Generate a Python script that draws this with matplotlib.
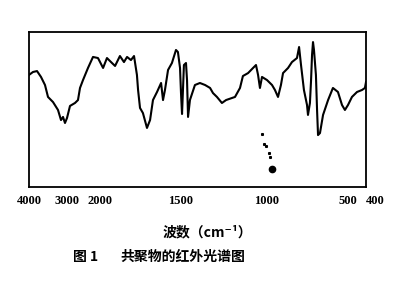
import numpy as np
import matplotlib
matplotlib.use("Agg")
import matplotlib.pyplot as plt

# IR spectrum: wavenumber (cm-1) and transmittance (%)
wavenumber = [4000, 3895, 3789, 3684, 3579, 3500, 3368, 3237, 3158, 3105, 3053, 3000,
              2909, 2758, 2667, 2606, 2515, 2364, 2212, 2061,
              1981, 1957, 1926, 1907, 1877, 1852, 1833, 1809, 1790, 1772, 1765, 1753,
              1735, 1710, 1691, 1673, 1648, 1623, 1611, 1599, 1580, 1556, 1531, 1519,
              1506, 1500, 1494, 1483, 1471, 1465, 1459, 1448, 1419, 1390, 1360, 1331,
              1314, 1291, 1262, 1238, 1186, 1157, 1140, 1110, 1081, 1064, 1052, 1041,
              1029, 1000, 969, 951, 932, 914, 901, 870, 846, 815, 802, 790, 772, 753,
              747, 735, 728, 722, 716, 710, 698, 691, 685, 673, 654, 623, 593, 562,
              537, 519, 500, 478, 450, 422, 406, 400]
transmittance = [72.3, 74.2, 74.8, 71.0, 65.8, 58.1, 54.8, 49.7, 43.2, 45.2, 41.3, 44.5,
                 52.3, 54.2, 56.1, 63.9, 69.0, 76.8, 83.9, 83.2,
                 76.8, 83.2, 80.0, 78.1, 84.5, 80.6, 83.9, 81.9, 84.5, 72.3, 62.6, 51.0,
                 47.7, 38.1, 43.2, 56.1, 61.3, 67.1, 56.1, 62.6, 75.5, 80.0, 88.4, 87.1,
                 76.8, 60.6, 47.1, 78.7, 80.0, 69.0, 45.2, 56.1, 65.8, 67.1, 65.8, 63.9,
                 60.6, 58.1, 54.2, 56.1, 58.1, 63.9, 71.6, 73.5, 76.8, 78.7, 72.3, 63.9,
                 71.0, 69.0, 65.8, 62.6, 58.1, 65.8, 73.5, 76.8, 80.6, 83.2, 90.3, 78.7,
                 62.6, 52.9, 46.5, 54.2, 69.0, 85.2, 93.5, 88.4, 72.3, 49.7, 33.5, 34.8,
                 46.5, 56.1, 63.9, 61.3, 52.9, 49.7, 52.9, 58.1, 61.3, 62.6, 63.9, 67.7]

# stray specks on the scan
speck_wn = [1029, 1017, 1006, 988, 981]
speck_t = [34.2, 27.7, 26.5, 22.0, 19.4]
blob_wn = [969]
blob_t = [11.6]

tick_values = [4000, 3000, 2000, 1500, 1000, 500, 400]
tick_labels = ["4000", "3000", "2000", "1500", "1000", "500", "400"]

# chart paper scale: compressed above 2000 cm-1
scale_wn = np.array([400, 500, 1000, 1500, 2000, 3000, 4000], dtype=float)
scale_pos = np.array([337, 319, 238, 152, 71, 38, 0], dtype=float)


def forward(x):
    return -np.interp(x, scale_wn, scale_pos)


def inverse(p):
    return np.interp(-np.asarray(p), scale_pos[::-1], scale_wn[::-1])


cjk = ["Noto Sans CJK SC", "DejaVu Sans"]

fig = plt.figure(figsize=(4, 2.88), dpi=100)
ax = fig.add_axes([29 / 400, 1 - 187 / 288, 337 / 400, 155 / 288])
ax.set_xscale("function", functions=(forward, inverse))

ax.plot(wavenumber, transmittance, color="black", linewidth=1.5)
ax.plot(speck_wn, speck_t, "s", color="black", markersize=1.2, linestyle="none")
ax.plot(blob_wn, blob_t, "o", color="black", markersize=4.5, linestyle="none")

ax.set_xlim(4000, 400)
ax.set_ylim(0, 100)
ax.set_yticks([])
ax.set_xticks(tick_values)
ax.set_xticklabels(tick_labels, fontfamily="Liberation Serif", fontweight="bold", fontsize=9)
ax.xaxis.get_ticklabels()[-1].set_ha("left")
ax.xaxis.set_minor_locator(matplotlib.ticker.NullLocator())
ax.tick_params(axis="x", length=0, pad=6)
for s in ax.spines.values():
    s.set_linewidth(1.3)

fig.text(207 / 400, 1 - 232 / 288, "波数（cm⁻¹）", family=cjk, fontsize=10,
         fontweight="bold", ha="center", va="center")
fig.text(73 / 400, 1 - 257 / 288, "图 1", family=cjk, fontsize=10,
         fontweight="bold", ha="left", va="center")
fig.text(120 / 400, 1 - 257 / 288, "共聚物的红外光谱图", family=cjk, fontsize=10,
         fontweight="bold", ha="left", va="center")

fig.savefig("out.png", dpi=100)
